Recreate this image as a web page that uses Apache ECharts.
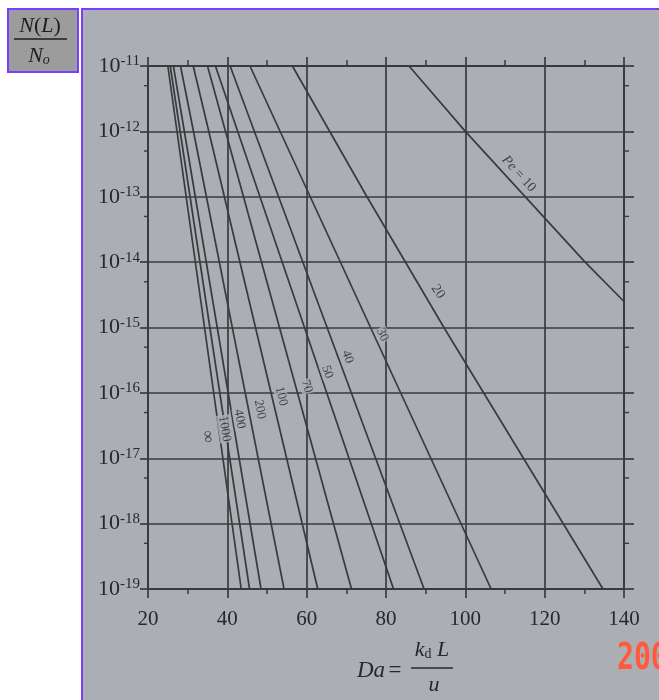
<!DOCTYPE html>
<html><head><meta charset="utf-8">
<script src="https://cdn.jsdelivr.net/npm/echarts@6/dist/echarts.min.js"></script>
<style>html,body{margin:0;padding:0;background:#fff;overflow:hidden}#c{width:659px;height:700px}</style>
</head><body><div id="c"></div>
<script>
// ---- data ----
const xTicks = [20, 40, 60, 80, 100, 120, 140];
const yDecades = [1e-11, 1e-12, 1e-13, 1e-14, 1e-15, 1e-16, 1e-17, 1e-18, 1e-19];
const yMinorTicks = [5e-12, 5e-13, 5e-14, 5e-15, 5e-16, 5e-17, 5e-18, 5e-19];
const peNames = ['∞', '1000', '400', '200', '100', '70', '50', '40', '30', '20', '10'];
const pe_inf  = [[25.0, 1e-11], [43.5, 1e-19]];
const pe_1000 = [[25.6, 1e-11], [45.6, 1e-19]];
const pe_400  = [[26.4, 1e-11], [48.5, 1e-19]];
const pe_200  = [[28.2, 1e-11], [54.3, 1e-19]];
const pe_100  = [[31.4, 1e-11], [62.8, 1e-19]];
const pe_70   = [[35.0, 1e-11], [71.3, 1e-19]];
const pe_50   = [[37.0, 1e-11], [81.9, 1e-19]];
const pe_40   = [[40.7, 1e-11], [89.6, 1e-19]];
const pe_30   = [[45.7, 1e-11], [106.5, 1e-19]];
const pe_20   = [[56.4, 1e-11], [75.2, 1e-13], [94.6, 1e-15], [134.7, 1e-19]];
const pe_10   = [[85.8, 1e-11], [100, 1e-12], [130.2, 1e-14], [140, 2.5e-15]];
const curves = [pe_inf, pe_1000, pe_400, pe_200, pe_100, pe_70, pe_50, pe_40, pe_30, pe_20, pe_10];
// where each curve label sits (data coordinates)
const labelAnchors = [[35.0, 2.14e-17], [39.3, 2.82e-17], [43.1, 3.98e-17], [48.2, 5.6e-17], [53.6, 8.9e-17],
  [60.0, 1.26e-16], [65.2, 2.09e-16], [70.3, 3.55e-16], [79.1, 7.76e-16], [93.1, 3.55e-15], [113.5, 2.24e-13]];

// ---- styles ----
const INK = '#383b3e', TXT = '#26282b', BG = '#abafb3', PURPLE = '#7b3dff';
const SERIF = 'Liberation Serif';
const labelRot = [-82, -81, -80, -79, -76, -74, -71, -70, -65, -57, -48];

const chart = echarts.init(document.getElementById('c'), null, {renderer: 'canvas'});
const series = curves.map((d, i) => ({
  type: 'line', name: peNames[i], data: d, showSymbol: false, symbol: 'none', silent: true,
  lineStyle: {color: INK, width: 1.7}, z: 3
}));
series.push({
  type: 'scatter', symbolSize: 0, silent: true, z: 5,
  data: labelAnchors.map((p, i) => ({
    value: p,
    label: {
      show: true, position: 'inside', rotate: labelRot[i],
      formatter: i === 10 ? '{i|Pe} = 10' : peNames[i],
      fontFamily: SERIF, fontSize: i === 0 ? 17 : (i >= 9 ? 14 : 13), color: TXT,
      backgroundColor: BG, padding: [0, 1],
      rich: {i: {fontStyle: 'italic', fontFamily: SERIF, fontSize: 14, color: TXT, backgroundColor: BG}}
    }
  }))
});
series.push({
  type: 'custom', silent: true, z: 4,
  data: yMinorTicks.map(v => [20, v]),
  renderItem: (params, api) => {
    const cs = params.coordSys;
    const y = api.coord([20, api.value(1)])[1];
    const st = {stroke: INK, lineWidth: 1.4};
    return {type: 'group', children: [
      {type: 'line', shape: {x1: cs.x - 4, y1: y, x2: cs.x, y2: y}, style: st},
      {type: 'line', shape: {x1: cs.x + cs.width, y1: y, x2: cs.x + cs.width + 5, y2: y}, style: st}
    ]};
  }
});

const axisLine = {show: true, lineStyle: {color: INK, width: 1.9}};
chart.setOption({
  backgroundColor: '#ffffff',
  animation: false,
  grid: {left: 148, top: 66, width: 476, height: 523},
  xAxis: [
    {type: 'value', min: xTicks[0], max: xTicks[xTicks.length - 1], interval: 20, position: 'bottom',
     axisLine, axisTick: {show: true, length: 9, lineStyle: {color: INK, width: 1.7}},
     minorTick: {show: true, splitNumber: 2, length: 5, lineStyle: {color: INK, width: 1.5}},
     axisLabel: {margin: 20, fontFamily: SERIF, fontSize: 21, color: TXT},
     splitLine: {show: true, lineStyle: {color: INK, width: 1.7}}},
    {type: 'value', min: xTicks[0], max: xTicks[xTicks.length - 1], interval: 20, position: 'top',
     axisLine, axisTick: {show: true, length: 9, lineStyle: {color: INK, width: 1.7}},
     minorTick: {show: true, splitNumber: 2, length: 6, lineStyle: {color: INK, width: 1.5}},
     axisLabel: {show: false}, splitLine: {show: false}}
  ],
  yAxis: [
    {type: 'log', logBase: 10, min: yDecades[yDecades.length - 1], max: yDecades[0], splitNumber: 8,
     position: 'left', axisLine, axisTick: {show: true, length: 8, lineStyle: {color: INK, width: 1.7}},
     axisLabel: {margin: 8, color: TXT,
       formatter: v => '{b|10}{s|' + Math.round(Math.log10(v)) + '}',
       rich: {b: {fontFamily: SERIF, fontSize: 22, color: TXT, lineHeight: 24},
              s: {fontFamily: SERIF, fontSize: 15, color: TXT, verticalAlign: 'top', lineHeight: 15, padding: [0, 0, 10, 0]}}},
     splitLine: {show: true, lineStyle: {color: INK, width: 1.7}}},
    {type: 'log', logBase: 10, min: yDecades[yDecades.length - 1], max: yDecades[0], splitNumber: 8,
     position: 'right', axisLine, axisTick: {show: true, length: 10, lineStyle: {color: INK, width: 1.7}},
     axisLabel: {show: false}, splitLine: {show: false}}
  ],
  series,
  graphic: [
    {type: 'rect', z: -100, shape: {x: 82, y: 9, width: 600, height: 720}, style: {fill: BG, stroke: PURPLE, lineWidth: 2}},
    {type: 'rect', z: -100, shape: {x: 8, y: 9, width: 70, height: 63}, style: {fill: '#9c9c9c', stroke: PURPLE, lineWidth: 2}},
    {type: 'text', x: 40, y: 26, style: {text: '{i|N}{r|(}{i|L}{r|)}', align: 'center', verticalAlign: 'middle',
      rich: {i: {fontFamily: SERIF, fontStyle: 'italic', fontSize: 22, fill: '#1e1e1e'}, r: {fontFamily: SERIF, fontSize: 22, fill: '#1e1e1e'}}}},
    {type: 'line', shape: {x1: 14, y1: 39, x2: 67, y2: 39}, style: {stroke: '#1e1e1e', lineWidth: 1.4}},
    {type: 'text', x: 39, y: 56, style: {text: '{i|N}{o|o}', align: 'center', verticalAlign: 'middle',
      rich: {i: {fontFamily: SERIF, fontStyle: 'italic', fontSize: 22, fill: '#1e1e1e'},
             o: {fontFamily: SERIF, fontStyle: 'italic', fontSize: 14, fill: '#1e1e1e', verticalAlign: 'bottom', padding: [8, 0, 0, 0]}}}},
    {type: 'text', x: 357, y: 671, style: {text: '{i|Da} {r|=}', align: 'left', verticalAlign: 'middle',
      rich: {i: {fontFamily: SERIF, fontStyle: 'italic', fontSize: 23, fill: TXT}, r: {fontFamily: SERIF, fontSize: 23, fill: TXT}}}},
    {type: 'text', x: 432, y: 650, style: {text: '{i|k}{d|d}{i| L}', align: 'center', verticalAlign: 'middle',
      rich: {i: {fontFamily: SERIF, fontStyle: 'italic', fontSize: 22, fill: TXT},
             d: {fontFamily: SERIF, fontSize: 14, fill: TXT, verticalAlign: 'bottom', padding: [8, 0, 0, 0]}}}},
    {type: 'line', shape: {x1: 411, y1: 668, x2: 453, y2: 668}, style: {stroke: TXT, lineWidth: 1.5}},
    {type: 'text', x: 434, y: 685, style: {text: 'u', align: 'center', verticalAlign: 'middle',
      fontFamily: SERIF, fontStyle: 'italic', fontSize: 22, fill: TXT}},
    {type: 'text', x: 617, y: 659, scaleX: 0.74, scaleY: 1,
     style: {text: '2005', align: 'left', verticalAlign: 'middle',
      fontFamily: 'DejaVu Sans Mono', fontWeight: 'bold', fontSize: 38, fill: '#ff5a3c'}}
  ]
});
</script></body></html>
